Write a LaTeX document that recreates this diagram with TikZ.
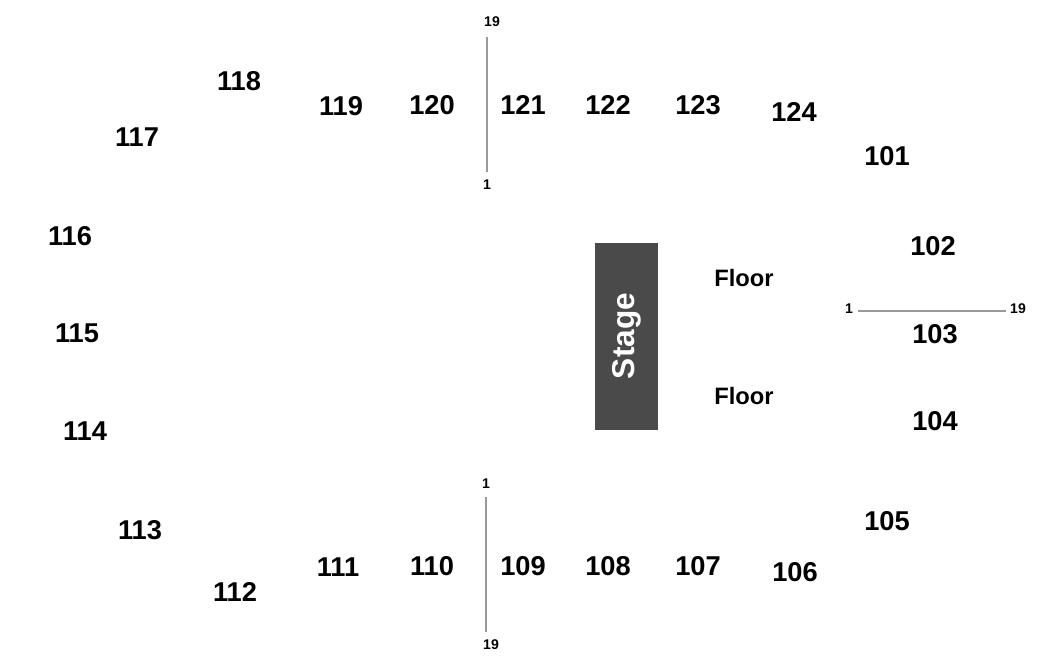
\documentclass[tikz,border=0pt]{standalone}
\usepackage{fontspec}
\setmainfont{Liberation Sans}
\usepackage{tikz}

\begin{document}
\begin{tikzpicture}[x=0.02cm, y=-0.02cm,
  sec/.style={font=\bfseries\fontsize{15.5}{17}\selectfont, inner sep=0pt},
  row/.style={font=\bfseries\fontsize{8}{9}\selectfont, inner sep=0pt},
  aisle/.style={draw=black!40, line width=0.6pt}]
\useasboundingbox (0,0) rectangle (1050,664);
% sections, upper side
\foreach \n/\x/\y in {118/239/81, 119/341/106, 120/432/105, 121/523/105, 122/608/105,
  123/698/105, 124/794/112, 117/137/137, 101/887/156, 116/70/236, 102/933/246,
  115/77/333, 103/935/334}
{
	\node[sec] (s\n) at (\x,\y) {\n};
}
% sections, lower side
\foreach \n/\x/\y in {114/85/431, 104/935/421, 113/140/530, 105/887/521, 112/235/592,
  111/338/567, 110/432/566, 109/523/566, 108/608/566, 107/698/566, 106/795/572}
{
	\node[sec] (s\n) at (\x,\y) {\n};
}
% stage and floor
\fill[black!71] (595,243) rectangle (658,430);
\node[rotate=90, text=white, font=\bfseries\fontsize{18}{20}\selectfont] (stage) at (627,336) {Stage};
\node[font=\bfseries\fontsize{13.5}{15}\selectfont] (floorA) at (744,278) {Floor};
\node[font=\bfseries\fontsize{13.5}{15}\selectfont] (floorB) at (744,396) {Floor};
% row markers
\node[row] (topHi) at (492,22) {19};
\node[row] (topLo) at (487,185) {1};
\coordinate (ta) at (487,37);
\coordinate (tb) at (487,172);
\draw[aisle] (ta) -- (tb);
\node[row] (botLo) at (486,484) {1};
\node[row] (botHi) at (491,645) {19};
\coordinate (ba) at (486,497);
\coordinate (bb) at (486,632);
\draw[aisle] (ba) -- (bb);
\node[row] (rLo) at (849,309) {1};
\node[row] (rHi) at (1018,309) {19};
\coordinate (ra) at (858,311);
\coordinate (rb) at (1006,311);
\draw[aisle] (ra) -- (rb);
\end{tikzpicture}
\end{document}
